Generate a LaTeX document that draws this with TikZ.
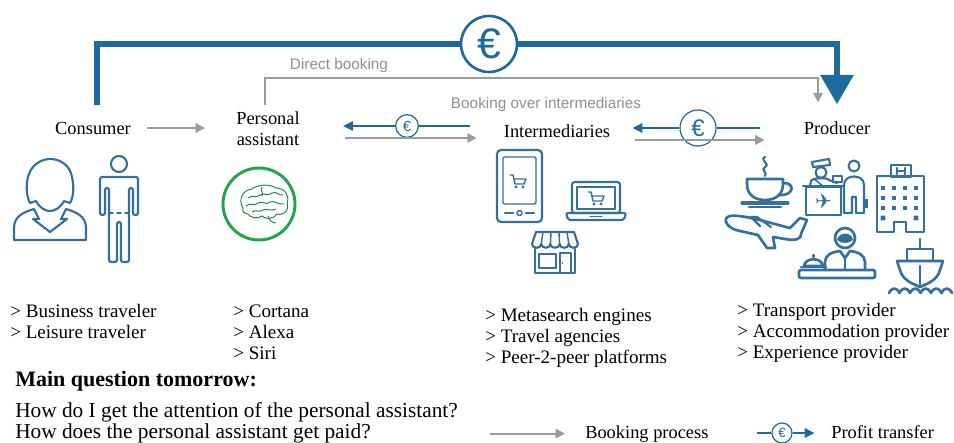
\documentclass[tikz,border=0pt]{standalone}
\usepackage{fontspec}
\setmainfont{Liberation Serif}
\newfontfamily\labelsans{Liberation Sans}
\newfontfamily\symbolfont{DejaVu Sans}
\usetikzlibrary{arrows.meta,calc}
\definecolor{flowblue}{HTML}{1F6A9C}
\definecolor{iconblue}{HTML}{33709C}
\definecolor{arrowgray}{HTML}{9B9B9B}
\definecolor{labelgray}{HTML}{8F8F8F}
\definecolor{braingreen}{HTML}{22A24A}
\begin{document}
\begin{tikzpicture}[x=0.75pt,y=-0.75pt,
  heading/.style={font=\fontsize{13.8}{16}\selectfont, inner sep=0pt},
  itemlist/.style={font=\fontsize{14.3}{15.75}\selectfont, align=left, inner sep=0pt, anchor=north west},
  greylabel/.style={font=\labelsans\fontsize{11.5}{13}\selectfont, text=labelgray, inner sep=0pt},
  booking/.style={draw=arrowgray, line width=1.5pt, -{Triangle[length=7pt,width=7pt]}},
  profit/.style={draw=flowblue, line width=1.5pt, -{Triangle[length=7.5pt,width=7pt]}},
  payline/.style={draw=flowblue, line width=1.5pt},
  eurosmall/.style={circle, draw=flowblue, line width=0.9pt, fill=white, inner sep=0pt,
    minimum size=17pt, text=flowblue, font=\labelsans\fontsize{11}{11}\selectfont},
  icon/.style={draw=iconblue, line width=1.6pt, line join=round, line cap=round},
  boldicon/.style={draw=iconblue, line width=2pt, line join=round, line cap=round},
  fineicon/.style={draw=iconblue, line width=1.1pt, line join=round, line cap=round},
  bigflow/.style={draw=flowblue, line width=4.5pt},
  question/.style={anchor=base west, inner sep=0pt, font=\fontsize{16}{17}\selectfont},
  cart/.pic={
    \draw[fineicon] (-8,-6) -- (-5,-6) -- (-3,3) -- (6,3);
    \draw[fineicon] (-4,-2) -- (8,-2) -- (6,3);
    \fill[iconblue] (-2,6) circle (1.6) (5,6) circle (1.6);
  },
]
\useasboundingbox (0,0) rectangle (954,443);

% ---------- actors ----------
\node[heading] (cons)  at (93,128)  {Consumer};
\node[heading, align=center, font=\fontsize{13.8}{15.75}\selectfont] (pa) at (268,129) {Personal\\assistant};
\node[heading] (inter) at (557,131) {Intermediaries};
\node[heading] (prod)  at (837,128) {Producer};

% ---------- payment from consumer to producer ----------
\node[circle, draw=flowblue, line width=2pt, fill=white, inner sep=0pt, minimum size=42pt,
      text=flowblue, font=\labelsans\fontsize{32}{32}\selectfont] (bigeuro) at (489,44) {€};
\draw[bigflow] ($(cons.north)+(4,-17)$) |- (bigeuro.west);
\draw[bigflow, -{Triangle[length=22pt,width=24pt]}] (bigeuro.east) -| ($(prod.north)+(0,-17)$);

% ---------- direct booking ----------
\draw[booking] ($(pa.north)+(-3,-7)$) -- ++(0,-27) -| ($(prod.north)+(-19,-19)$);
\node[greylabel] (direct) at (339,66) {Direct booking};
\node[greylabel] (overint) at (546,105) {Booking over intermediaries};

% ---------- consumer to assistant ----------
\draw[booking] ($(cons.east)+(16,0)$) -- ($(pa.west)+(-31,-1)$);

% ---------- assistant <-> intermediaries ----------
\node[eurosmall] (e1) at (407,126) {€};
\draw[payline] (e1.east) -- ($(inter.west)+(-34,-5)$);
\draw[profit] (e1.west) -- ($(pa.east)+(43,-3)$);
\draw[booking] ($(pa.east)+(45,9)$) -- ($(inter.west)+(-27,7)$);

% ---------- intermediaries <-> producer ----------
\node[eurosmall, minimum size=27pt, font=\labelsans\fontsize{18}{18}\selectfont] (e2) at (698,128) {€};
\draw[payline] (e2.east) -- ($(prod.west)+(-44,0)$);
\draw[profit] (e2.west) -- ($(inter.east)+(22,-3)$);
\draw[booking] ($(inter.east)+(25,9)$) -- ($(prod.west)+(-39,12)$);

% ---------- consumer icons ----------
% woman
\draw[icon] (30,203) .. controls (26,195) and (26,185) .. (28,177)
  .. controls (31,165) and (41,159) .. (50,159) .. controls (60,159) and (70,165) .. (72,177)
  .. controls (74,186) and (74,196) .. (70,203) -- (64,201)
  .. controls (60,208) and (55,211) .. (50,211) .. controls (45,211) and (40,208) .. (36,201) -- cycle;
\draw[icon] (14,240) -- (14,228) .. controls (14,216) and (24,212) .. (34,209) -- (39,219) -- (33,219)
  -- (50,232) -- (67,219) -- (61,219) -- (66,209) .. controls (76,212) and (86,216) .. (86,228)
  -- (86,240) -- cycle;
% man
\draw[icon] (119,164) circle (8);
\draw[icon, rounded corners=1.5pt] (100,177) -- (100,215) -- (105,215) -- (105,188) -- (109,188)
  -- (109,262) -- (117,262) -- (117,222) -- (121,222) -- (121,262) -- (129,262) -- (129,188)
  -- (133,188) -- (133,215) -- (138,215) -- (138,177) -- cycle;
\draw[fineicon, dashed] (109,213) -- (129,213);

% ---------- assistant icon ----------
\node[circle, draw=braingreen, line width=2.2pt, minimum size=54pt, inner sep=0pt] (brain) at (259,204) {};
\begin{scope}[draw=braingreen!80!black, line width=0.7pt]
\draw (243,208) .. controls (238,200) and (242,190) .. (252,189) .. controls (258,184) and (270,184) .. (276,188)
  .. controls (285,188) and (290,196) .. (287,203) .. controls (290,210) and (284,216) .. (277,214)
  .. controls (274,219) and (266,220) .. (262,216) .. controls (258,219) and (250,218) .. (248,214)
  .. controls (244,214) and (242,211) .. (243,208) -- cycle;
\draw (268,216) .. controls (269,220) and (272,223) .. (276,223);
\draw (248,198) .. controls (252,194) and (256,199) .. (260,195) .. controls (264,192) and (268,197) .. (272,193)
  .. controls (276,191) and (280,196) .. (283,195);
\draw (246,206) .. controls (250,202) and (254,207) .. (258,203) .. controls (262,200) and (266,206) .. (270,202)
  .. controls (274,200) and (278,205) .. (284,204);
\draw (252,212) .. controls (256,209) and (259,213) .. (263,210) .. controls (267,208) and (271,212) .. (276,209);
\draw (262,187) .. controls (260,191) and (264,193) .. (262,196);
\end{scope}

% ---------- intermediary icons ----------
% phone
\draw[icon, rounded corners=3pt] (497,150) rectangle (542,222);
\draw[fineicon, rounded corners=1pt] (503,157) rectangle (536,204);
\draw[fineicon] (519.5,213) circle (2.5);
\draw[icon] (505,213) -- (513,213) (526,213) -- (534,213);
\pic at (518,181) {cart};
% laptop
\draw[icon, rounded corners=2pt] (572,182) rectangle (620,213);
\draw[fineicon] (577,187) rectangle (615,209);
\draw[icon, rounded corners=1.5pt] (566,213) -- (626,213) -- (624,220) -- (568,220) -- cycle;
\draw[fineicon] (590,216.5) -- (602,216.5);
\pic at (596,198) {cart};
% shop
\draw[icon] (578,244) -- (574,232) -- (536,232) -- (532,244)
  .. controls (532,249) and (541.2,249) .. (541.2,244)
  .. controls (541.2,249) and (550.4,249) .. (550.4,244)
  .. controls (550.4,249) and (559.6,249) .. (559.6,244)
  .. controls (559.6,249) and (568.8,249) .. (568.8,244)
  .. controls (568.8,249) and (578,249) .. (578,244);
\draw[fineicon] (543,232) -- (541.2,244) (551,232) -- (550.4,244) (559,232) -- (559.6,244) (567,232) -- (568.8,244);
\draw[icon] (535,249) -- (535,273) -- (575,273) -- (575,249);
\draw[fineicon] (539,254) rectangle (556,268);
\draw[fineicon] (560,273) -- (560,253) -- (571,253) -- (571,273);
\fill[iconblue] (562.5,263) circle (0.9);

% ---------- producer icons ----------
% cup
\draw[icon] (765,157) .. controls (759,160) and (771,164) .. (765,167) .. controls (760,170) and (768,172) .. (765,176);
\draw[boldicon] (747,179) -- (783,179) -- (783,184) .. controls (783,195) and (775,200) .. (765,200)
  .. controls (755,200) and (747,195) .. (747,184) -- cycle;
\draw[boldicon] (783,183) .. controls (795,182) and (795,196) .. (779,195);
\draw[icon, line width=2.4pt] (742,203) -- (788,203);
\draw[icon] (749,207) -- (781,207);
% check-in desk
\draw[boldicon] (806,187) rectangle (841,215);
\draw[boldicon] (803,186) -- (844,186);
\node[text=iconblue, font=\symbolfont\fontsize{15}{15}\selectfont, inner sep=0pt] (deskplane) at (823.5,201) {✈};
\draw[icon] (812,162) -- (829,159) -- (830,165) -- (813,167) -- cycle;
\draw[icon] (821,172.5) circle (5.5);
\draw[icon] (810,186) -- (811,181) .. controls (812,178) and (826,177) .. (829,180) -- (837,183);
\draw[fineicon] (814,179) -- (823,186);
\draw[fineicon] (833,176) rectangle (842,182);
\draw[icon] (854,166) circle (5.5);
\draw[icon] (844,213) -- (844,185) .. controls (844,179) and (849,176.5) .. (854,176.5)
  .. controls (859,176.5) and (864,179) .. (864,185) -- (864,213) -- (856,213) -- (856,197) -- (852,197) -- (852,213) -- cycle;
\fill[iconblue] (863,199) rectangle (868,208);
% hotel
\draw[boldicon] (877,176) -- (877,232) -- (894,232) -- (894,222) -- (906,222) -- (906,232) -- (924,232) -- (924,176) -- cycle;
\draw[boldicon] (891,165) rectangle (911,177);
\draw[icon] (897,168) -- (897,174) (905,168) -- (905,174) (897,171) -- (905,171);
\foreach \wx in {883,894,905,916}
  \foreach \wy in {188,198,208}
    \fill[iconblue] ({\wx-2.3},{\wy-2.3}) rectangle ({\wx+2.3},{\wy+2.3});
\fill[iconblue] (880.7,215.7) rectangle (885.3,220.3) (913.7,215.7) rectangle (918.3,220.3);
% airplane
\draw[boldicon] (730,216) .. controls (742,214) and (770,223) .. (790,228) -- (800,218) -- (807,220) -- (801,234)
  .. controls (802,239) and (795,241) .. (785,239) -- (773,237) -- (775,248) -- (767,248) -- (758,235)
  -- (740,231) .. controls (727,229) and (721,218) .. (730,216) -- cycle;
\draw[icon] (760,226) -- (751,217) -- (757,217) -- (771,227);
% receptionist
\draw[boldicon] (845,238) circle (10);
\fill[iconblue] (837,240) .. controls (838,232) and (852,231) .. (853,240) .. controls (849,244) and (841,244) .. (837,240) -- cycle;
\draw[boldicon] (825,270) -- (825,262) .. controls (825,255) and (832,252) .. (840,251) -- (845,258) -- (850,251)
  .. controls (858,252) and (865,255) .. (865,262) -- (865,270);
\draw[icon] (845,258) -- (845,270);
\draw[boldicon, rounded corners=1.5pt] (799,270) rectangle (875,278);
\draw[boldicon] (804,266) .. controls (805,257) and (822,257) .. (823,266) -- cycle;
\draw[icon] (813.5,257) -- (813.5,255);
\draw[boldicon] (801,267) -- (826,267);
% ship
\draw[boldicon] (920,239) -- (920,249);
\draw[boldicon] (907,249) rectangle (933,261);
\draw[boldicon] (897,261) -- (943,261) -- (939,273) .. controls (935,281) and (927,284) .. (920,287)
  .. controls (913,284) and (905,281) .. (901,273) -- cycle;
\draw[icon] (920,266) -- (920,286);
\foreach \i in {0,...,5}
  \draw[boldicon] ({889+10.5*\i},293) .. controls ({892+10.5*\i},287) and ({896.5+10.5*\i},287) .. ({899.5+10.5*\i},293);

% ---------- lists ----------
\node[itemlist] (travelers) at (10,304) {> Business traveler\\> Leisure traveler};
\node[itemlist] (assistants) at (233,305) {> Cortana\\> Alexa\\> Siri};
\node[itemlist] (channels) at (485,308) {> Metasearch engines\\> Travel agencies\\> Peer-2-peer platforms};
\node[itemlist] (providers) at (737,303) {> Transport provider\\> Accommodation provider\\> Experience provider};

% ---------- question ----------
\node[anchor=base west, inner sep=0pt, font=\bfseries\fontsize{16.5}{18}\selectfont] (mainq) at (15,386) {Main question tomorrow:};
\node[question] (q1) at (15,417) {How do I get the attention of the personal assistant?};
\node[question] (q2) at (15,438) {How does the personal assistant get paid?};

% ---------- legend ----------
\node[anchor=base west, inner sep=0pt, font=\fontsize{13.8}{16}\selectfont] (lgbook) at (585,438) {Booking process};
\draw[booking] ($(lgbook.west)+(-95,0)$) -- ($(lgbook.west)+(-20,0)$);
\node[eurosmall, minimum size=15pt, font=\labelsans\fontsize{10}{10}\selectfont] (lgeuro) at (782,433) {€};
\draw[payline] ($(lgeuro.west)+(-14,0)$) -- (lgeuro.west);
\draw[profit] (lgeuro.east) -- ++(22,0);
\node[anchor=base west, inner sep=0pt, font=\fontsize{13.8}{16}\selectfont] (lgprofit) at (831,438) {Profit transfer};
\end{tikzpicture}
\end{document}
